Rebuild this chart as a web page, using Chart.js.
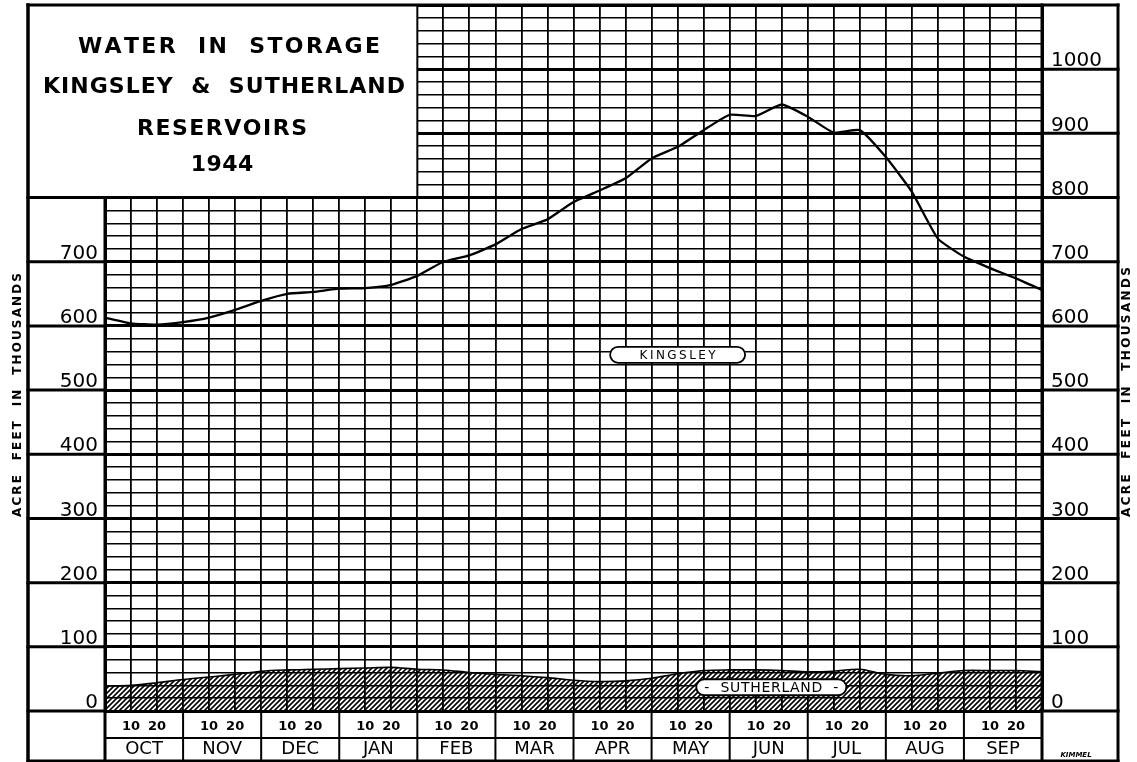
<!DOCTYPE html>
<html><head><meta charset="utf-8">
<script src="https://cdn.jsdelivr.net/npm/chart.js@4.4.1/dist/chart.umd.min.js"></script>
<style>html,body{margin:0;padding:0;background:#fff;overflow:hidden}canvas{display:block}</style>
</head><body>
<canvas id="c" width="1137" height="762"></canvas>
<script>
// ---- data (10-day readings, thousands of acre-feet) ----
const periods = ['Oct 1','Oct 11','Oct 21','Nov 1','Nov 11','Nov 21','Dec 1','Dec 11','Dec 21','Jan 1','Jan 11','Jan 21','Feb 1','Feb 11','Feb 21','Mar 1','Mar 11','Mar 21','Apr 1','Apr 11','Apr 21','May 1','May 11','May 21','Jun 1','Jun 11','Jun 21','Jul 1','Jul 11','Jul 21','Aug 1','Aug 11','Aug 21','Sep 1','Sep 11','Sep 21','Sep 30'];
const months = ['OCT','NOV','DEC','JAN','FEB','MAR','APR','MAY','JUN','JUL','AUG','SEP'];
const kingsley = [613,604,602,606,613,625,639,650,653,658,659,664,678,700,710,727,751,766,793,811,830,861,879,905,929,927,945,926,901,905,863,809,736,708,690,674,656];
const sutherland = [39,40,44,49,53,57,62,64,65,66,67,68,65,64,60,57,55,52,48,46,47,51,58,63,64,64,63,61,62,65,57,55,59,63,63,63,61];
const leftTickLabels = [0,100,200,300,400,500,600,700];
const rightTickLabels = [0,100,200,300,400,500,600,700,800,900,1000];
const titleLines = ['WATER  IN  STORAGE','KINGSLEY  &  SUTHERLAND','RESERVOIRS','1944'];
const axisTitle = 'ACRE  FEET  IN  THOUSANDS';
const FONT = '"DejaVu Sans", sans-serif';

// hatch pattern for Sutherland
function hatch(){
  const c = document.createElement('canvas'); c.width = 5; c.height = 5;
  const g = c.getContext('2d');
  g.strokeStyle = '#000'; g.lineWidth = 1.6;
  g.beginPath();
  g.moveTo(-1,6); g.lineTo(6,-1);
  g.moveTo(-3,3); g.lineTo(3,-3);
  g.moveTo(2,8); g.lineTo(8,2);
  g.stroke();
  return g.createPattern(c,'repeat');
}

function spaced(ctx, text, cx, cy, target){
  const ws = [...text].map(ch => ctx.measureText(ch).width);
  const tot = ws.reduce((a,b)=>a+b,0);
  const extra = Math.max(0.5, (target - tot)/(text.length-1));
  const full = tot + extra*(text.length-1);
  let x = cx - full/2;
  ctx.textAlign = 'left'; ctx.textBaseline = 'middle';
  [...text].forEach((ch,i)=>{ ctx.fillText(ch, x, cy); x += ws[i] + extra; });
}
function pill(ctx, cx, cy, w, h, text, font, tw){
  ctx.save();
  ctx.beginPath();
  ctx.roundRect(cx-w/2, cy-h/2, w, h, h/2);
  ctx.fillStyle = '#fff'; ctx.fill();
  ctx.lineWidth = 1.8; ctx.strokeStyle = '#000'; ctx.stroke();
  ctx.fillStyle = '#000'; ctx.font = font;
  spaced(ctx, text, cx, cy+1, tw);
  ctx.restore();
}

const decor = {
  id: 'decor',
  afterDraw(chart){
    const ctx = chart.ctx, a = chart.chartArea, sx = chart.scales.x, sy = chart.scales.y;
    const L = a.left, R = a.right, T = a.top, B = a.bottom;
    const fL = 28, fR = 1118, fB = 761;
    const yP = v => sy.getPixelForValue(v), xP = i => sx.getPixelForValue(i);
    ctx.save();
    ctx.strokeStyle = '#000'; ctx.lineCap = 'square';
    const line = (x1,y1,x2,y2,w) => { ctx.lineWidth = w; ctx.beginPath(); ctx.moveTo(x1,y1); ctx.lineTo(x2,y2); ctx.stroke(); };
    // title box
    const tbR = xP(12), tbB = yP(800);
    ctx.fillStyle = '#fff'; ctx.fillRect(fL, T, tbR-fL, tbB-T);
    line(fL, tbB, tbR, tbB, 3);
    line(tbR, T, tbR, tbB, 2);
    // label-area rules
    leftTickLabels.forEach(v => line(fL, yP(v), L, yP(v), 3));
    rightTickLabels.forEach(v => line(R, yP(v), fR, yP(v), 3));
    // frame
    line(fL, T, fR, T, 3);
    line(fL, T, fL, fB+1, 3.5);
    line(fR, T, fR, fB+1, 3);
    line(fL, fB, fR, fB, 3);
    line(L, tbB, L, fB, 3);
    line(R, T, R, fB, 3);
    // bottom month boxes
    line(L, 738, R, 738, 2);
    for (let m = 1; m < 12; m++) line(xP(3*m), B, xP(3*m), fB, 2);
    // series labels
    pill(ctx, xP(22), yP(555), 135, 16, 'KINGSLEY', '12px ' + FONT, 76);
    pill(ctx, xP(25.6), yP(37), 150, 16, '-  SUTHERLAND  -', '14px ' + FONT, 134);
    // axis titles
    ctx.fillStyle = '#000';
    ctx.font = 'bold 12px ' + FONT;
    ctx.save(); ctx.translate(18, 395); ctx.rotate(-Math.PI/2); spaced(ctx, axisTitle, 0, 0, 244); ctx.restore();
    ctx.save(); ctx.translate(1127, 392); ctx.rotate(-Math.PI/2); spaced(ctx, axisTitle, 0, 0, 250); ctx.restore();
    // title
    ctx.font = 'bold 22px ' + FONT;
    spaced(ctx, titleLines[0], 229, 47, 302);
    spaced(ctx, titleLines[1], 224, 87, 362);
    spaced(ctx, titleLines[2], 222, 129, 170);
    spaced(ctx, titleLines[3], 222, 165, 62);
    // signature
    ctx.font = 'italic bold 7px ' + FONT;
    ctx.textAlign = 'center'; ctx.textBaseline = 'alphabetic';
    ctx.fillText('KIMMEL', 1076, 757);
    ctx.restore();
  }
};

const zeroPad = s => { s.paddingTop = 0; s.paddingBottom = 0; s.paddingLeft = 0; s.paddingRight = 0; };

new Chart(document.getElementById('c'), {
  type: 'line',
  data: {
    labels: periods,
    datasets: [
      { label: 'KINGSLEY', data: kingsley, borderColor: '#000', borderWidth: 2.3, pointRadius: 0, tension: 0.15, fill: false },
      { label: 'SUTHERLAND', data: sutherland, borderColor: '#000', borderWidth: 1.6, pointRadius: 0, tension: 0.3, fill: 'origin', backgroundColor: hatch() }
    ]
  },
  options: {
    responsive: false, animation: false, devicePixelRatio: 1,
    layout: { padding: { top: 5, left: 0, right: 0, bottom: 0 } },
    plugins: { legend: { display: false }, tooltip: { enabled: false } },
    scales: {
      x: {
        type: 'category', position: 'bottom', weight: 0, offset: false,
        afterFit(s){ s.height = 27; zeroPad(s); },
        grid: { color: '#000', drawTicks: false, lineWidth: c => (c.index === 0 || c.index === 36) ? 3 : 1.8 },
        border: { display: false },
        ticks: { autoSkip: false, maxRotation: 0, padding: 8, color: '#000',
          font: { family: FONT, size: 13, weight: 'bold' },
          callback: (v, i) => i % 3 === 1 ? '10' : (i % 3 === 2 ? '20' : '') }
      },
      x2: {
        type: 'category', labels: months, position: 'bottom', weight: 1, offset: true,
        afterFit(s){ s.height = 24; zeroPad(s); },
        grid: { display: false, drawTicks: false }, border: { display: false },
        ticks: { autoSkip: false, maxRotation: 0, padding: 1, color: '#000', font: { family: FONT, size: 18 } }
      },
      y: {
        position: 'left', min: 0, max: 1100,
        afterFit(s){ s.width = 105; zeroPad(s); },
        grid: { color: '#000', drawTicks: false, lineWidth: c => (c.tick && c.tick.value % 100 === 0) ? 3 : 1.4 },
        border: { display: false },
        ticks: { stepSize: 20, autoSkip: false, padding: 7, labelOffset: -8, color: '#000',
          font: { family: FONT, size: 20 },
          callback: v => leftTickLabels.includes(v) ? String(v) : '' }
      },
      y2: {
        position: 'right', min: 0, max: 1100,
        afterFit(s){ s.width = 95; zeroPad(s); },
        grid: { display: false, drawTicks: false }, border: { display: false },
        ticks: { stepSize: 20, autoSkip: false, padding: 9, labelOffset: -8, color: '#000',
          font: { family: FONT, size: 20 },
          callback: v => rightTickLabels.includes(v) ? String(v) : '' }
      }
    }
  },
  plugins: [decor]
});
</script>
</body></html>
